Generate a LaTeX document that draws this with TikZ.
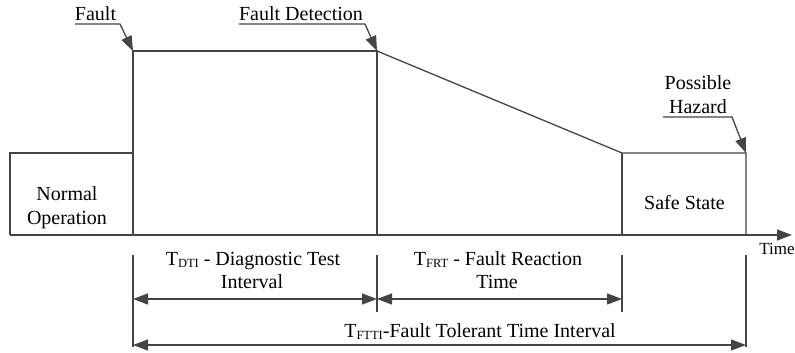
\documentclass[tikz,border=0pt]{standalone}
\usepackage{fontspec}
\setmainfont{Liberation Serif}
\usetikzlibrary{arrows.meta}
\definecolor{ln}{RGB}{68,68,68}
\newcommand\sbs[1]{\raisebox{-2pt}{\fontsize{12.5}{12}\selectfont #1}}
\tikzset{
  every node/.style={font=\fontsize{20}{24}\selectfont, inner sep=0pt, anchor=base, text=black},
  outl/.style={draw=ln, line width=1.3pt, line join=miter},
  tickln/.style={draw=ln, line width=1.3pt},
  tip/.tip={Triangle[length=15pt,width=11pt]},
  callout/.style={draw=ln, line width=1.3pt, -{tip}, fill=none},
  dimarr/.style={draw=ln, line width=1.3pt, {tip}-{tip}},
  timelbl/.style={font=\fontsize{17}{20}\selectfont}
}
\begin{document}
\begin{tikzpicture}[x=1pt,y=-1pt]
\useasboundingbox (0,0) rectangle (795,353);
% key coordinates
\coordinate (a0) at (10,235);
\coordinate (n1) at (10,153);
\coordinate (n2) at (133,153);
\coordinate (f0) at (133,235);
\coordinate (f1) at (133,51);
\coordinate (d1) at (377,51);
\coordinate (d0) at (377,235);
\coordinate (s1) at (622,153);
\coordinate (s0) at (622,235);
\coordinate (h1) at (746,153);
\coordinate (h0) at (746,235);
\coordinate (tend) at (792,235);
% signal outline
\draw[outl] (a0) -- (n1) -- (n2);
\draw[outl] (f0) -- (f1) -- (d1) -- (d0);
\draw[outl] (d1) -- (s1) -- (h1) -- (h0);
\draw[outl] (s1) -- (s0);
% time axis
\draw[outl, -{tip}] (a0) -- (tend);
\node[timelbl] (timeax) at (777,254) {Time};
% state labels
\node (norm1) at (67,200) {Normal};
\node (norm2) at (67,224) {Operation};
\node (safe) at (684.5,209) {Safe State};
% callouts
\node (fault) at (95.5,21) {Fault};
\coordinate (fu1) at (75,24);
\coordinate (fu2) at (120,24);
\draw[callout] (fu1) -- (fu2) -- (f1);
\node (fdet) at (301,21) {Fault Detection};
\coordinate (du1) at (239,24);
\coordinate (du2) at (365,24);
\draw[callout] (du1) -- (du2) -- (d1);
\node (poss) at (698,89) {Possible};
\node (haz) at (698,113) {Hazard};
\coordinate (hu1) at (663,117);
\coordinate (hu2) at (732,117);
\draw[callout] (hu1) -- (hu2) -- (h1);
% dimension ticks
\coordinate (t1a) at (133,255); \coordinate (t1b) at (133,347);
\coordinate (t2a) at (377,255); \coordinate (t2b) at (377,312);
\coordinate (t3a) at (622,255); \coordinate (t3b) at (622,312);
\coordinate (t4a) at (746,255); \coordinate (t4b) at (746,347);
\draw[tickln] (t1a) -- (t1b);
\draw[tickln] (t2a) -- (t2b);
\draw[tickln] (t3a) -- (t3b);
\draw[tickln] (t4a) -- (t4b);
% dimension arrows
\coordinate (dti1) at (133,299); \coordinate (dti2) at (377,299);
\coordinate (frt2) at (622,299);
\coordinate (ft1) at (133,345); \coordinate (ft2) at (746,345);
\draw[dimarr] (dti1) -- (dti2);
\draw[dimarr] (dti2) -- (frt2);
\draw[dimarr] (ft1) -- (ft2);
% dimension labels
\node (dtiA) at (253,265) {T\sbs{DTI} - Diagnostic Test};
\node (dtiB) at (252,288) {Interval};
\node (frtA) at (498,265) {T\sbs{FRT} - Fault Reaction};
\node (frtB) at (497,288) {Time};
\node (ftti) at (480,337) {T\sbs{FTTI}-Fault Tolerant Time Interval};
\end{tikzpicture}
\end{document}
